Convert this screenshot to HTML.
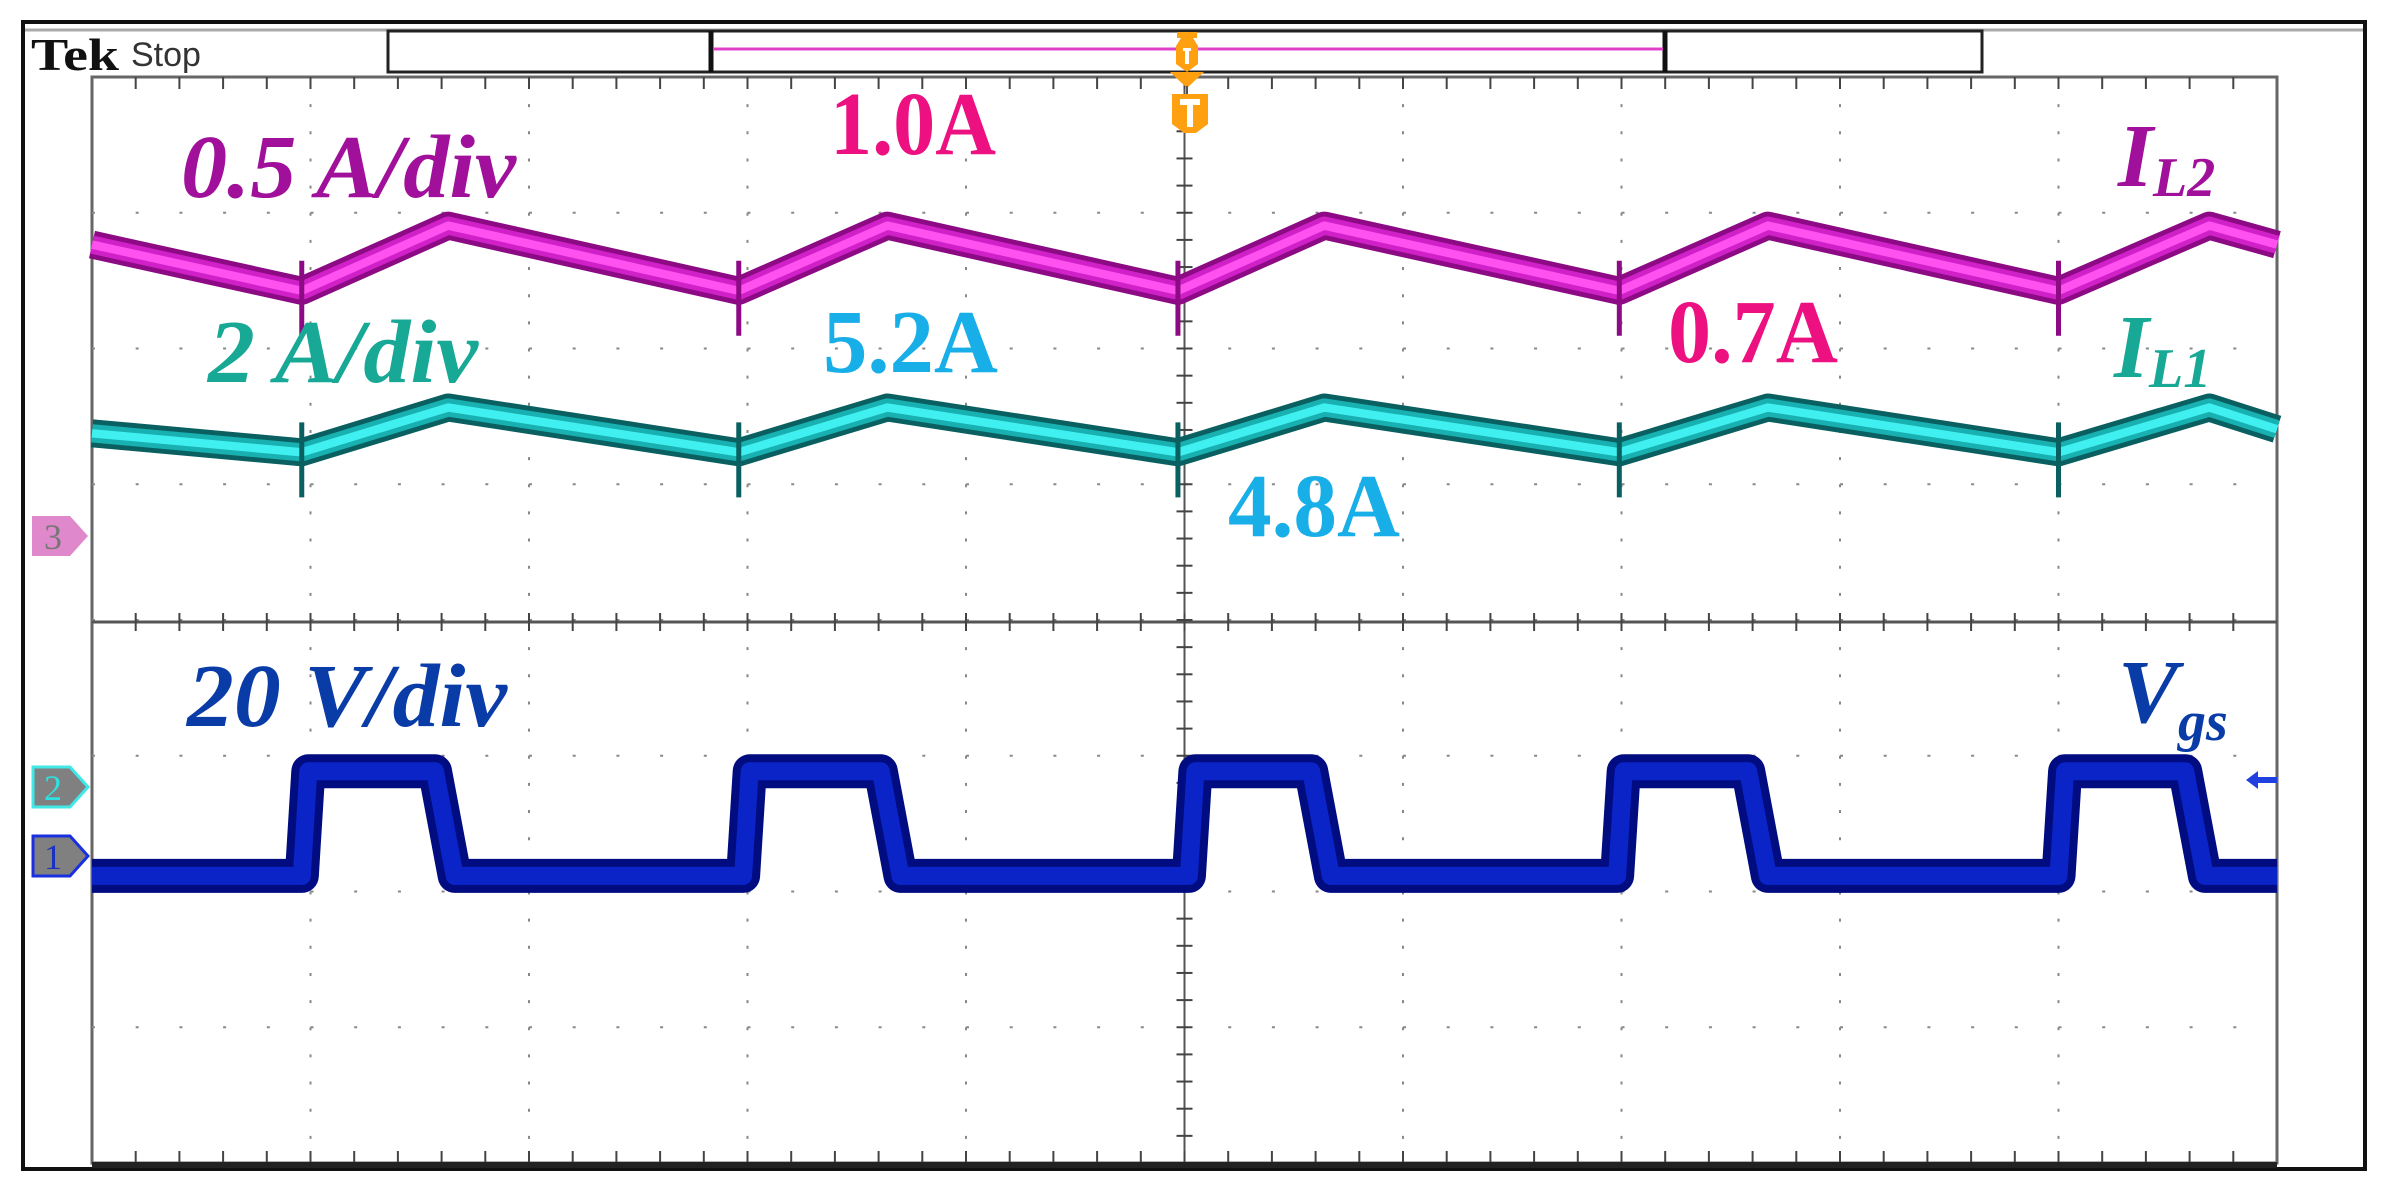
<!DOCTYPE html>
<html><head><meta charset="utf-8"><style>
html,body{margin:0;padding:0;background:#fff}
svg{display:block}
.lbl{font-family:"Liberation Serif",serif;font-weight:bold}
</style></head><body>
<svg id="scope" width="2394" height="1188" viewBox="0 0 2394 1188" xmlns="http://www.w3.org/2000/svg">
<rect x="0" y="0" width="2394" height="1188" fill="#fff"/>
<rect x="23" y="22" width="2342" height="1147" fill="none" stroke="#111" stroke-width="4"/>
<g>
  <line x1="25" y1="30" x2="2363" y2="30" stroke="#aaa" stroke-width="3"/>
  <text x="31" y="70" font-family="Liberation Serif,serif" font-weight="bold" font-size="46" fill="#111" textLength="88" lengthAdjust="spacingAndGlyphs">Tek</text>
  <text x="131" y="66" font-family="Liberation Sans,sans-serif" font-size="34" fill="#333">Stop</text>
  <rect x="388" y="31" width="1594" height="41" fill="#fff" stroke="#222" stroke-width="3"/>
  <line x1="711" y1="31" x2="711" y2="72" stroke="#111" stroke-width="5"/>
  <line x1="1665" y1="31" x2="1665" y2="72" stroke="#111" stroke-width="5"/>
  <line x1="713" y1="49" x2="1663" y2="49" stroke="#e040c8" stroke-width="3"/>
</g>
<g id="grid"></g>
<g id="traces"></g>
<g>
  <path d="M1177,32 H1197 V38 H1193 L1198,46 V64 L1187,72 L1176,64 V46 L1181,38 H1177Z" fill="#ffa010"/>
  <path d="M1170,72 H1204 L1187,88Z" fill="#ffa010"/>
  <line x1="1187" y1="86" x2="1187" y2="94" stroke="#555" stroke-width="2"/>
  <path d="M1172,94 H1208 V124 L1196,133 H1184 L1172,124Z" fill="#ffa010"/>
  <path d="M1180,99 H1200 V105 H1193 V127 H1187 V105 H1180Z" fill="#fff"/>
  <path d="M1183,48 H1191 V51 H1189 V64 H1185 V51 H1183Z" fill="#fff"/>
</g>
<g font-family="Liberation Serif,serif" font-size="36">
  <path d="M32,516 H70 L88,536 L70,556 H32Z" fill="#e088cc"/>
  <text x="44" y="549" fill="#777">3</text>
  <path d="M33,767 H70 L88,787 L70,807 H33Z" fill="#808080" stroke="#40e8e8" stroke-width="3"/>
  <text x="44" y="800" fill="#30e0e0">2</text>
  <path d="M33,836 H70 L88,856 L70,876 H33Z" fill="#808080" stroke="#1a30e0" stroke-width="3"/>
  <text x="44" y="869" fill="#1a30c0">1</text>
  <path d="M2246,780 L2258,771 V777 H2277 V783 H2258 V789Z" fill="#2040e0"/>
</g>
<g>
  <text class="lbl" x="181" y="197" font-size="90" font-style="italic" fill="#a0109a" textLength="335" lengthAdjust="spacingAndGlyphs">0.5 A/div</text>
  <text class="lbl" x="830" y="154" font-size="90" fill="#ec1080" textLength="166" lengthAdjust="spacingAndGlyphs">1.0A</text>
  <text class="lbl" x="208" y="382" font-size="90" font-style="italic" fill="#18a896" textLength="270" lengthAdjust="spacingAndGlyphs">2 A/div</text>
  <text class="lbl" x="823" y="372" font-size="90" fill="#18aee8" textLength="175" lengthAdjust="spacingAndGlyphs">5.2A</text>
  <text class="lbl" x="1668" y="362" font-size="90" fill="#ec1080" textLength="170" lengthAdjust="spacingAndGlyphs">0.7A</text>
  <text class="lbl" x="1228" y="536" font-size="90" fill="#18aee8" textLength="172" lengthAdjust="spacingAndGlyphs">4.8A</text>
  <text class="lbl" x="2118" y="186" font-size="90" font-style="italic" fill="#a0109a">I<tspan font-size="56" dy="10">L2</tspan></text>
  <text class="lbl" x="2114" y="377" font-size="90" font-style="italic" fill="#18a896">I<tspan font-size="56" dy="10">L1</tspan></text>
  <text class="lbl" x="187" y="726" font-size="90" font-style="italic" fill="#0a3ca8" textLength="320" lengthAdjust="spacingAndGlyphs">20 V/div</text>
  <text class="lbl" x="2118" y="722" font-size="90" font-style="italic" fill="#0a3ca8">V<tspan font-size="56" dy="18">gs</tspan></text>
</g>
</svg>
<script>
// time of vertices in divisions (0..10), values in divisions from center
const il2Times = [0, 0.96, 1.63, 2.96, 3.64, 4.97, 5.64, 6.99, 7.67, 9.00, 9.69, 10];
const il2Values = [2.78, 2.44, 2.92, 2.44, 2.92, 2.44, 2.92, 2.44, 2.92, 2.44, 2.92, 2.78];
const il1Times = [0, 0.96, 1.63, 2.96, 3.64, 4.97, 5.64, 6.99, 7.67, 9.00, 9.69, 10];
const il1Values = [1.39, 1.25, 1.58, 1.25, 1.58, 1.25, 1.58, 1.25, 1.58, 1.25, 1.58, 1.42];
const spikeTimes = [0.96, 2.96, 4.97, 6.99, 9.00];
const vgsTimes = [0, 0.96, 0.99, 1.57, 1.66, 2.98, 3.01, 3.61, 3.70, 5.02, 5.05, 5.58, 5.67, 6.98, 7.01, 7.58, 7.67, 9.00, 9.03, 9.58, 9.67, 10];
const vgsValues = [-1.87, -1.87, -1.10, -1.10, -1.87, -1.87, -1.10, -1.10, -1.87, -1.87, -1.10, -1.10, -1.87, -1.87, -1.10, -1.10, -1.87, -1.87, -1.10, -1.10, -1.87, -1.87];

const NS = 'http://www.w3.org/2000/svg';
const X0 = 92, X1 = 2277, Y0 = 77, Y1 = 1163, YC = 622;
const DX = (X1 - X0) / 10, DY = (Y1 - Y0) / 8;
function xs(t) { return X0 + t * DX; }
function ys(v) { return YC - v * DY; }
function mk(tag, attrs, parent) {
  const e = document.createElementNS(NS, tag);
  for (const k in attrs) e.setAttribute(k, attrs[k]);
  parent.appendChild(e);
  return e;
}
const grid = document.getElementById('grid');
const border = mk('rect', {x: X0, y: Y0, width: X1 - X0, height: Y1 - Y0, fill: 'none', stroke: '#666', 'stroke-width': 3}, grid);


for (let i = 1; i < 10; i++) {
  const l = mk('line', {x1: xs(i), y1: Y0, x2: xs(i), y2: Y1, stroke: '#888', 'stroke-width': 2, 'stroke-dasharray': '3 ' + (DY / 5 - 3)}, grid);
  
  
}
for (let j = 1; j < 8; j++) {
  const l = mk('line', {x1: X0, y1: Y0 + j * DY, x2: X1, y2: Y0 + j * DY, stroke: '#888', 'stroke-width': 2, 'stroke-dasharray': '3 ' + (DX / 5 - 3)}, grid);
  
  
}
const ch = mk('line', {x1: X0, y1: YC, x2: X1, y2: YC, stroke: '#555', 'stroke-width': 3}, grid);


const cv = mk('line', {x1: xs(5), y1: Y0, x2: xs(5), y2: Y1, stroke: '#555', 'stroke-width': 2}, grid);


for (let k = 1; k < 50; k++) {
  const x = X0 + k * DX / 5;
  mk('line', {x1: x, y1: YC - 9, x2: x, y2: YC + 9, stroke: '#444', 'stroke-width': 2}, grid);
  mk('line', {x1: x, y1: Y0, x2: x, y2: Y0 + 12, stroke: '#444', 'stroke-width': 2}, grid);
  mk('line', {x1: x, y1: Y1 - 12, x2: x, y2: Y1, stroke: '#444', 'stroke-width': 2}, grid);
}
for (let k = 1; k < 40; k++) {
  const y = Y0 + k * DY / 5;
  mk('line', {x1: xs(5) - 8, y1: y, x2: xs(5) + 8, y2: y, stroke: '#444', 'stroke-width': 2}, grid);
}
mk('line', {x1: X0, y1: Y1 + 2, x2: X1, y2: Y1 + 2, stroke: '#222', 'stroke-width': 6}, grid);

const traces = document.getElementById('traces');
function pts(ts, vs) { return ts.map((t, i) => xs(t).toFixed(1) + ',' + ys(vs[i]).toFixed(1)).join(' '); }
function valAt(ts, vs, t) {
  for (let i = 1; i < ts.length; i++) if (t <= ts[i]) return vs[i - 1] + (vs[i] - vs[i - 1]) * (t - ts[i - 1]) / (ts[i] - ts[i - 1]);
  return vs[vs.length - 1];
}
function trace(name, ts, vs, outer, mid, inner, w) {
  const g = mk('g', {}, traces);
  
  
  mk('polyline', {points: pts(ts, vs), fill: 'none', stroke: outer, 'stroke-width': w, 'stroke-linejoin': 'round'}, g);
  mk('polyline', {points: pts(ts, vs), fill: 'none', stroke: mid, 'stroke-width': w * 0.65, 'stroke-linejoin': 'round'}, g);
  mk('polyline', {points: pts(ts, vs), fill: 'none', stroke: inner, 'stroke-width': w * 0.3, 'stroke-linejoin': 'round'}, g);
  spikeTimes.forEach(t => {
    const y = ys(valAt(ts, vs, t));
    const s = mk('line', {x1: xs(t), y1: y - 30, x2: xs(t), y2: y + 45, stroke: outer, 'stroke-width': 5}, g);
    
    
  });
}
trace('il2-trace', il2Times, il2Values, '#8c0a84', '#d020c8', '#ff50f0', 28);
trace('il1-trace', il1Times, il1Values, '#0a6060', '#18b0b0', '#40f0f0', 28);
const vg = mk('g', {}, traces);


mk('polyline', {points: pts(vgsTimes, vgsValues), fill: 'none', stroke: '#000c80', 'stroke-width': 34, 'stroke-linejoin': 'round'}, vg);
mk('polyline', {points: pts(vgsTimes, vgsValues), fill: 'none', stroke: '#0a24c8', 'stroke-width': 18, 'stroke-linejoin': 'round'}, vg);
</script>
</body></html>
